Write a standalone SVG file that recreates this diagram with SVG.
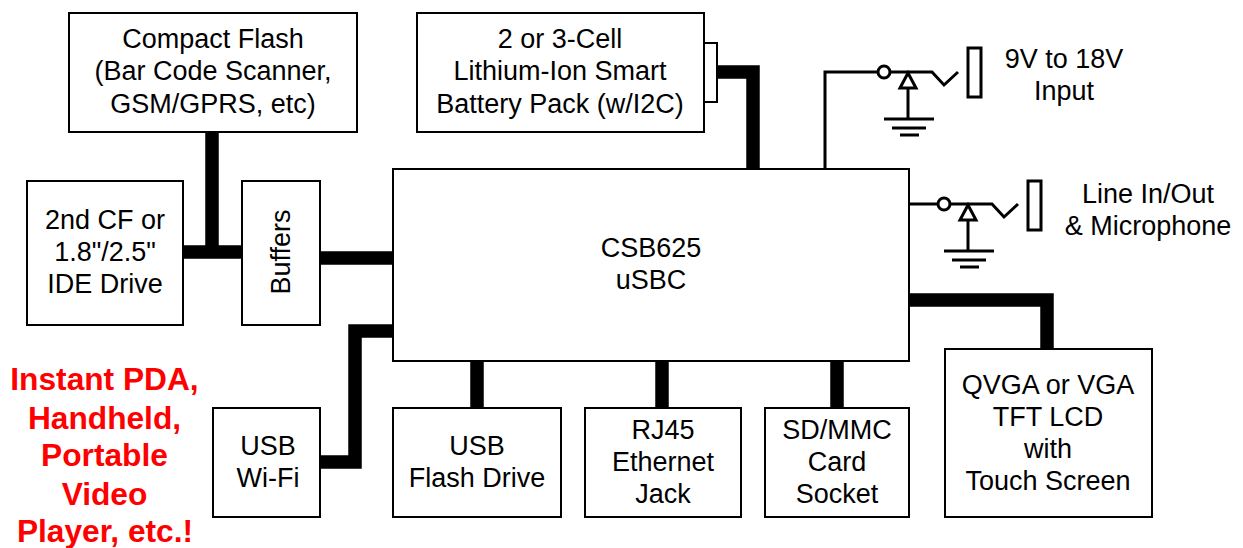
<svg xmlns="http://www.w3.org/2000/svg" width="1243" height="548" viewBox="0 0 1243 548">
<style>
text{font-family:"Liberation Sans",Arial,sans-serif;font-size:27px;fill:#000;text-anchor:middle}
.box{fill:#fff;stroke:#000;stroke-width:2}
.bus{fill:none;stroke:#000;stroke-width:13.5}
.w{fill:none;stroke:#000;stroke-width:3}
.plug{fill:#fff;stroke:#000;stroke-width:3}
.red{fill:#f00;font-weight:bold;font-size:31.7px}
</style>
<defs>
<g id="jack">
<path class="w" d="M6 0H48L60 13L74 0"/>
<circle cx="0" cy="0" r="6" fill="#fff" stroke="#000" stroke-width="3"/>
<path d="M24 1L32 16H16Z" fill="#fff" stroke="#000" stroke-width="3"/>
<path class="w" d="M24 16V47M0 47H50M8 56H42M16 63H35"/>
</g>
</defs>
<g id="connectors">
<path class="bus" d="M212 132V252M183 252H242"/>
<path class="bus" d="M320 258H393"/>
<path class="bus" d="M393 331H355V462H320"/>
<path class="bus" d="M717 72H753V169"/>
<path class="bus" d="M909 300H1047V348"/>
<path class="bus" d="M477 361V408M662 361V408M837 361V408"/>
<path class="w" d="M825 169V72H878"/>
<path class="w" d="M908 204H938"/>
</g>
<g id="compact-flash"><rect class="box" x="69" y="13" width="288" height="119"/><text x="213" y="48">Compact Flash</text><text x="213" y="80">(Bar Code Scanner,</text><text x="213" y="113">GSM/GPRS, etc)</text></g>
<g id="battery"><rect class="box" x="704" y="43" width="13" height="59"/><rect class="box" x="417" y="13" width="287" height="119"/><text x="560" y="48">2 or 3-Cell</text><text x="560" y="80">Lithium-Ion Smart</text><text x="560" y="113">Battery Pack (w/I2C)</text></g>
<g id="ide-drive"><rect class="box" x="27" y="181" width="156" height="144"/><text x="105" y="229">2nd CF or</text><text x="105" y="261">1.8"/2.5"</text><text x="105" y="293">IDE Drive</text></g>
<g id="buffers"><rect class="box" x="242" y="181" width="78" height="144"/><text transform="translate(290 252) rotate(-90)">Buffers</text></g>
<g id="csb625"><rect class="box" x="393" y="169" width="516" height="192"/><text x="651" y="257">CSB625</text><text x="651" y="289">uSBC</text></g>
<g id="power-jack"><use href="#jack" x="884" y="72"/><rect class="plug" x="968" y="48" width="13" height="49"/><text x="1064" y="68">9V to 18V</text><text x="1064" y="100">Input</text></g>
<g id="audio-jack"><use href="#jack" x="944" y="204"/><rect class="plug" x="1028" y="181" width="13" height="49"/><text x="1148" y="203">Line In/Out</text><text x="1148" y="235">&amp; Microphone</text></g>
<g id="lcd"><rect class="box" x="945" y="349" width="207" height="168"/><text x="1048" y="394">QVGA or VGA</text><text x="1048" y="426">TFT LCD</text><text x="1048" y="458">with</text><text x="1048" y="490">Touch Screen</text></g>
<g id="wifi"><rect class="box" x="213" y="408" width="107" height="109"/><text x="268" y="455">USB</text><text x="268" y="487">Wi-Fi</text></g>
<g id="flash-drive"><rect class="box" x="393" y="408" width="168" height="109"/><text x="477" y="455">USB</text><text x="477" y="487">Flash Drive</text></g>
<g id="ethernet"><rect class="box" x="585" y="408" width="156" height="109"/><text x="663" y="439">RJ45</text><text x="663" y="471">Ethernet</text><text x="663" y="503">Jack</text></g>
<g id="sdmmc"><rect class="box" x="765" y="408" width="144" height="109"/><text x="837" y="439">SD/MMC</text><text x="837" y="471">Card</text><text x="837" y="503">Socket</text></g>
<g id="caption"><text class="red" x="104.500" y="390">Instant PDA,</text><text class="red" x="104.500" y="429">Handheld,</text><text class="red" x="104.500" y="466">Portable</text><text class="red" x="104.500" y="505">Video</text><text class="red" x="105" y="541.500">Player, etc.!</text></g>
</svg>
